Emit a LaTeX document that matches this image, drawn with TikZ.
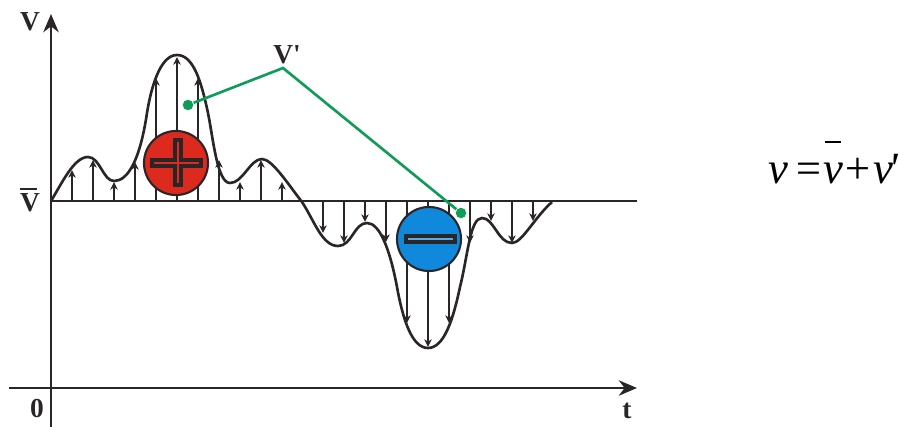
\documentclass[tikz,border=0pt]{standalone}
\usepackage{fontspec}
\setmainfont{Liberation Serif}
\usetikzlibrary{arrows.meta}
\definecolor{inkdark}{HTML}{2A2627}
\definecolor{plusred}{HTML}{DC2A1E}
\definecolor{minusblue}{HTML}{1088DC}
\definecolor{pulsegreen}{HTML}{0E9C58}
\newcommand{\meanbar}[3]{\leavevmode\rlap{\hspace{#3}\raisebox{#2}{\rule{#1}{0.55pt}}}}
\tikzset{
  axisline/.style={draw=inkdark, line width=0.7pt},
  pulsearrow/.style={draw=inkdark, line width=0.6pt, -{Stealth[length=2.2pt,width=2.1pt]}},
  axislabel/.style={text=inkdark, font=\fontsize{7.8}{9}\selectfont\bfseries, inner sep=0pt},
  signdisc/.style={circle, draw=inkdark, line width=0.6pt, minimum size=0.64cm, inner sep=0pt},
  signbar/.style={draw=inkdark, line width=1.1pt},
  greendot/.style={circle, fill=pulsegreen, minimum size=0.105cm, inner sep=0pt},
}
\begin{document}
\begin{tikzpicture}[x=0.01cm,y=-0.01cm]
    \useasboundingbox (0,0) rectangle (899,427);

    % axes
    \coordinate (vbottom) at (51,427);
    \coordinate (vtop) at (51,14);
    \coordinate (tleft) at (9,388);
    \coordinate (tright) at (637,388);
    \coordinate (meanleft) at (51,201);
    \coordinate (meanright) at (637,201);
    \draw[axisline, -{Stealth[length=5.2pt,width=4.4pt]}] (vbottom) -- (vtop);
    \draw[axisline, -{Stealth[length=5.2pt,width=4.4pt]}] (tleft) -- (tright);
    \draw[axisline] (meanleft) -- (meanright);

    % pulsation arrows
    \foreach \x/\y in {72/170,93/160,114/182,135/162,156/78,177/57,198/78,219/160,240/182,261/160,282/182}
      \draw[pulsearrow] (\x,201) -- (\x,\y);
    \foreach \x/\y in {323/233,344/243,365/222,386/242,407/323,428/347,449/323,470/243,491/221,512/243,533/221}
      \draw[pulsearrow] (\x,201) -- (\x,\y);

    % velocity curve
    \draw[draw=inkdark, line width=0.75pt] (51,201)
      .. controls (62,183) and (74,157) .. (88,157)
      .. controls (100,157) and (103,181) .. (114,181)
      .. controls (128,181) and (140,160) .. (147,113)
      .. controls (151,88) and (160,55) .. (177,55)
      .. controls (193,55) and (201,80) .. (208,113)
      .. controls (213,137) and (217,183) .. (230,183)
      .. controls (243,183) and (250,159) .. (262,159)
      .. controls (272,159) and (288,184) .. (302,202)
      .. controls (314,220) and (322,246) .. (338,246)
      .. controls (352,246) and (354,223) .. (367,223)
      .. controls (380,223) and (390,250) .. (397,287)
      .. controls (403,320) and (412,348) .. (428,348)
      .. controls (444,348) and (453,320) .. (460,287)
      .. controls (468,255) and (470,218) .. (482,218)
      .. controls (494,218) and (498,243) .. (512,243)
      .. controls (522,243) and (534,218) .. (552,202);

    % plus disc
    \node[signdisc, fill=plusred] (plusdisc) at (176,163) {};
    \filldraw[signbar, fill=plusred]
      (175,140) -- (181,140) -- (181,160) -- (201,160) -- (201,166) -- (181,166)
      -- (181,185) -- (175,185) -- (175,166) -- (152,166) -- (152,160) -- (175,160) -- cycle;

    % minus disc
    \node[signdisc, fill=minusblue] (minusdisc) at (429,239) {};
    \filldraw[signbar, fill=minusblue!70!white] (406,236) rectangle (455,242);

    % green pointers
    \node[greendot] (dotplus) at (188,105) {};
    \node[greendot] (dotminus) at (461,213) {};
    \coordinate (kink) at (283,68);
    \draw[draw=pulsegreen, line width=0.75pt] (dotplus) -- (kink) -- (dotminus);

    % labels
    \node[axislabel] (vlabel) at (30,22) {V};
    \node[axislabel] (vmean) at (30,200) {\meanbar{0.62em}{0.8em}{0em}V};
    \node[axislabel] (vprime) at (287,55) {V\textquotesingle};
    \node[axislabel] (zero) at (37,409) {0};
    \node[axislabel] (tlabel) at (627,411) {t};
    \node[inner sep=0pt, text=black, anchor=base west, font=\fontsize{12.7}{15}\selectfont\itshape] (formula) at (768,183)
      {v\kern0.1em=\meanbar{0.34em}{0.9em}{0.05em}v+v\kern-0.1em\textquotesingle};
  \end{tikzpicture}
\end{document}
